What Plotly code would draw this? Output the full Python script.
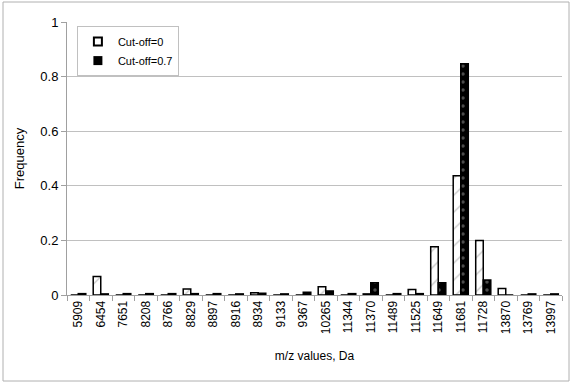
import plotly.graph_objects as go

categories = ["5909", "6454", "7651", "8208", "8766", "8829", "8897", "8916", "8934", "9133",
              "9367", "10265", "11344", "11370", "11489", "11525", "11649", "11681", "11728",
              "13870", "13769", "13997"]
cutoff_0 = [0.0, 0.068, 0.0, 0.0, 0.0, 0.022, 0.0, 0.0, 0.008, 0.0,
            0.0, 0.030, 0.0, 0.004, 0.0, 0.020, 0.177, 0.437, 0.200,
            0.024, 0.0, 0.0]
cutoff_07 = [0.005, 0.004, 0.005, 0.005, 0.005, 0.005, 0.005, 0.004, 0.006, 0.004,
             0.010, 0.015, 0.005, 0.045, 0.005, 0.005, 0.045, 0.847, 0.055,
             0.0, 0.004, 0.004]
series_names = ["Cut-off=0", "Cut-off=0.7"]

FONT = "Arial, 'Liberation Sans', sans-serif"

fig = go.Figure()
fig.add_trace(go.Bar(
    x=categories, y=cutoff_0, name=series_names[0], showlegend=False,
    marker=dict(color="white", line=dict(color="black", width=1.5),
                pattern=dict(shape="/", fgcolor="#777777", bgcolor="white", size=12, solidity=0.1)),
))
fig.add_trace(go.Bar(
    x=categories, y=cutoff_07, name=series_names[1], showlegend=False,
    marker=dict(color="black", line=dict(color="black", width=1.5),
                pattern=dict(shape=".", fgcolor="#999999", bgcolor="black", size=8, solidity=0.15)),
))
# legend swatches (small squares as in the reference)
fig.add_trace(go.Scatter(x=[None], y=[None], mode="markers", name=series_names[0],
                         marker=dict(symbol="square", size=8, color="white",
                                     line=dict(color="black", width=2))))
fig.add_trace(go.Scatter(x=[None], y=[None], mode="markers", name=series_names[1],
                         marker=dict(symbol="square", size=9, color="black",
                                     line=dict(color="black", width=0))))

fig.update_layout(
    width=572, height=384,
    margin=dict(l=67, r=10, t=22, b=89),
    paper_bgcolor="white", plot_bgcolor="white",
    barmode="group", bargap=0.33, bargroupgap=0,
    font=dict(family=FONT, size=12, color="black"),
    showlegend=True,
    legend=dict(x=0.02, y=0.985, xanchor="left", yanchor="top",
                bgcolor="white", bordercolor="#c0c0c0", borderwidth=1,
                font=dict(family=FONT, size=11), tracegroupgap=0, itemwidth=30,
                itemsizing="trace"),
    xaxis=dict(
        type="category", tickangle=-90, tickson="boundaries",
        ticks="outside", ticklen=5, tickcolor="#a0a0a0",
        showline=True, linecolor="#a0a0a0", linewidth=1,
        showgrid=False,
        title=dict(text="m/z values, Da", font=dict(family=FONT, size=12), standoff=18),
        tickfont=dict(family=FONT, size=12),
    ),
    yaxis=dict(
        range=[0, 1], dtick=0.2, tick0=0,
        ticks="outside", ticklen=5, tickcolor="#a0a0a0",
        showline=True, linecolor="#a0a0a0", linewidth=1,
        showgrid=True, gridcolor="#c0c0c0", gridwidth=1,
        zeroline=False,
        title=dict(text="Frequency", font=dict(family=FONT, size=13), standoff=12),
        tickfont=dict(family=FONT, size=13),
    ),
    shapes=[dict(type="rect", xref="paper", yref="paper",
                 x0=-64/495, x1=1 + 7/495, y0=-86/273, y1=1 + 20/273,
                 line=dict(color="#b0b0b0", width=1), fillcolor="rgba(0,0,0,0)", layer="below")],
)

fig.write_html("out.html", config={"displayModeBar": False},
               post_script="document.body.style.margin='0';")
